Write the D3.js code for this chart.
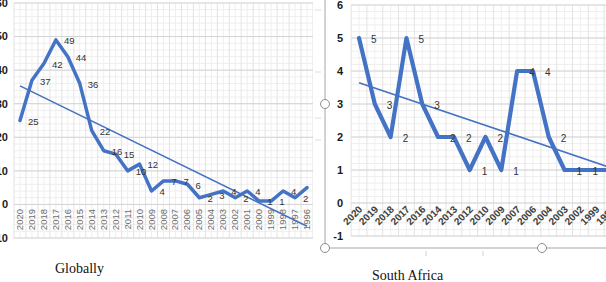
<!DOCTYPE html>
<html>
<head>
<meta charset="utf-8">
<script src="https://cdn.jsdelivr.net/npm/d3@7"></script>
<style>
	body { margin: 0; background: #fff; }
	svg { display: block; }
</style>
</head>
<body>
<svg id="chart" width="606" height="282"></svg>
<script>
'use strict';

// data
var globalYears = ["2020", "2019", "2018", "2017", "2016", "2015", "2014", "2013", "2012", "2011", "2010", "2009",
	"2008", "2007", "2006", "2005", "2004", "2003", "2002", "2001", "2000", "1999", "1998", "1997", "1996"];
var globalCounts = [25, 37, 42, 49, 44, 36, 22, 16, 15, 10, 12, 4, 7, 7, 6, 2, 3, 4, 2, 4, 1, 1, 4, 2, 5];
var globalTicks = [-10, 0, 10, 20, 30, 40, 50, 60];

var saYears = ["2020", "2019", "2018", "2017", "2016", "2014", "2013", "2012", "2010", "2009", "2007", "2006",
	"2004", "2003", "2002", "1999", "1997"];
var saCounts = [5, 3, 2, 5, 3, 2, 2, 1, 2, 1, 4, 4, 2, 1, 1, 1, 1];
var saTicks = [-1, 0, 1, 2, 3, 4, 5, 6];

var captions = ["Globally", "South Africa"];

var LINE_COLOR = "#4472c4";

var svg = d3.select("#chart");

function linearTrend(values) {
	var n = values.length;
	var mx = (n - 1) / 2;
	var my = d3.mean(values);
	var sxy = 0, sxx = 0;
	for (var i = 0; i < n; i++) {
		sxy += (i - mx) * (values[i] - my);
		sxx += (i - mx) * (i - mx);
	}
	var slope = sxy / sxx;
	return [my - slope * mx, my + slope * (n - 1 - mx)];
}

function drawChart(opt) {
	var clipId = "clip-" + opt.id;
	svg.append("clipPath")
		.attr("id", clipId)
		.append("rect")
		.attr("x", opt.clip[0])
		.attr("y", 0)
		.attr("width", opt.clip[1] - opt.clip[0])
		.attr("height", 282);

	var g = svg.append("g").attr("clip-path", "url(#" + clipId + ")");

	var x = d3.scalePoint()
		.domain(opt.years)
		.range(opt.xRange);
	var step = x.step();

	var y = d3.scaleLinear()
		.domain(d3.extent(opt.ticks))
		.range(opt.yRange);

	var left = opt.xRange[0] - step / 2;
	var right = opt.xRange[1] + step / 2;

	// graph-paper grid
	var grid = g.append("g");
	grid.selectAll(".minor-h")
		.data(d3.range(opt.ticks[0], opt.ticks[opt.ticks.length - 1] + 1e-6, opt.minor))
		.enter().append("line")
		.attr("x1", left).attr("x2", right)
		.attr("y1", function (d) { return y(d); })
		.attr("y2", function (d) { return y(d); })
		.style("stroke", "#eeeeee");

	var halfSteps = d3.range(0, opt.years.length * 2 + 1).map(function (i) {
		return left + i * step / 2;
	});
	grid.selectAll(".minor-v")
		.data(halfSteps)
		.enter().append("line")
		.attr("x1", function (d) { return d; })
		.attr("x2", function (d) { return d; })
		.attr("y1", opt.yRange[1]).attr("y2", opt.yRange[0])
		.style("stroke", function (d, i) { return i % 2 === 0 ? "#e3e3e3" : "#efefef"; });

	grid.selectAll(".major-h")
		.data(opt.ticks)
		.enter().append("line")
		.attr("x1", left).attr("x2", right)
		.attr("y1", function (d) { return y(d); })
		.attr("y2", function (d) { return y(d); })
		.style("stroke", "#d4d4d4");

	// value axis labels
	g.append("g").selectAll("text")
		.data(opt.ticks)
		.enter().append("text")
		.attr("x", opt.yLabelX)
		.attr("y", function (d) { return y(d); })
		.attr("dy", "0.35em")
		.attr("text-anchor", "end")
		.style("font", "bold 11px Arial, 'Liberation Sans', sans-serif")
		.style("fill", "#1a1a1a")
		.text(function (d) { return d; });

	// category labels
	g.append("g").selectAll("text")
		.data(opt.years)
		.enter().append("text")
		.attr("transform", function (d) {
			return "translate(" + (x(d) + opt.catDx) + "," + opt.catY + ") rotate(" + opt.catAngle + ")";
		})
		.attr("dy", opt.catDy)
		.attr("text-anchor", "end")
		.style("font", opt.catFont)
		.style("fill", opt.catColor)
		.text(function (d) { return d; });

	// trend line
	var tr = linearTrend(opt.values);
	g.append("line")
		.attr("x1", x(opt.years[0]))
		.attr("y1", y(tr[0]))
		.attr("x2", x(opt.years[opt.years.length - 1]))
		.attr("y2", y(tr[1]))
		.style("stroke", LINE_COLOR)
		.style("stroke-width", 1.6);

	// series line
	var line = d3.line()
		.x(function (d, i) { return x(opt.years[i]); })
		.y(function (d) { return y(d); });

	g.append("path")
		.datum(opt.values)
		.attr("d", line)
		.style("fill", "none")
		.style("stroke", LINE_COLOR)
		.style("stroke-width", opt.lineWidth)
		.style("stroke-linejoin", "round")
		.style("stroke-linecap", "round");

	// data labels
	g.append("g").selectAll("text")
		.data(opt.values)
		.enter().append("text")
		.attr("x", function (d, i) { return x(opt.years[i]) + opt.labelDx; })
		.attr("y", function (d) { return y(d) + 1; })
		.attr("dy", "0.35em")
		.style("font", opt.labelFont)
		.style("fill", "#333333")
		.text(function (d) { return d; });
}

drawChart({
	id: "global",
	years: globalYears,
	values: globalCounts,
	ticks: globalTicks,
	minor: 2,
	xRange: [20, 307],
	yRange: [238, 3],
	clip: [0, 313],
	yLabelX: 8,
	catDx: 3,
	catY: 209,
	catAngle: -90,
	catDy: 0,
	catFont: "9.5px Arial, 'Liberation Sans', sans-serif",
	catColor: "#6f6f6f",
	lineWidth: 3.5,
	labelDx: 8,
	labelFont: "9.5px Arial, 'Liberation Sans', sans-serif"
});

drawChart({
	id: "sa",
	years: saYears,
	values: saCounts,
	ticks: saTicks,
	minor: 0.2,
	xRange: [359, 612],
	yRange: [236, 5],
	clip: [327, 606],
	yLabelX: 343,
	catDx: 4,
	catY: 210,
	catAngle: -45,
	catDy: 0,
	catFont: "bold 10px Arial, 'Liberation Sans', sans-serif",
	catColor: "#404040",
	lineWidth: 4.2,
	labelDx: 12,
	labelFont: "10px Arial, 'Liberation Sans', sans-serif"
});

// picture selection frame round the second chart
var frame = svg.append("g")
	.style("stroke", "#a6a6a6")
	.style("fill", "none");

frame.append("line")
	.attr("x1", 325).attr("y1", 0)
	.attr("x2", 325).attr("y2", 248);
frame.append("line")
	.attr("x1", 325).attr("y1", 248)
	.attr("x2", 606).attr("y2", 248);

[426, 483].forEach(function (tx) {
	frame.append("line")
		.attr("x1", tx).attr("y1", 251)
		.attr("x2", tx).attr("y2", 256)
		.style("stroke", "#d0d0d0");
});

[10, 72, 118, 140].forEach(function (ty) {
	frame.append("line")
		.attr("x1", 315).attr("y1", ty)
		.attr("x2", 321).attr("y2", ty)
		.style("stroke", "#dddddd");
});

[[325, 104], [325, 248], [542, 248]].forEach(function (p) {
	frame.append("circle")
		.attr("cx", p[0]).attr("cy", p[1])
		.attr("r", 4.5)
		.style("fill", "#fff")
		.style("stroke", "#8c8c8c");
});

// captions under the charts
svg.append("text")
	.attr("x", 55).attr("y", 273)
	.style("font", "14px 'Liberation Serif', 'Times New Roman', serif")
	.style("fill", "#111")
	.text(captions[0]);

svg.append("text")
	.attr("x", 372).attr("y", 280)
	.style("font", "14px 'Liberation Serif', 'Times New Roman', serif")
	.style("fill", "#111")
	.text(captions[1]);
</script>
</body>
</html>
